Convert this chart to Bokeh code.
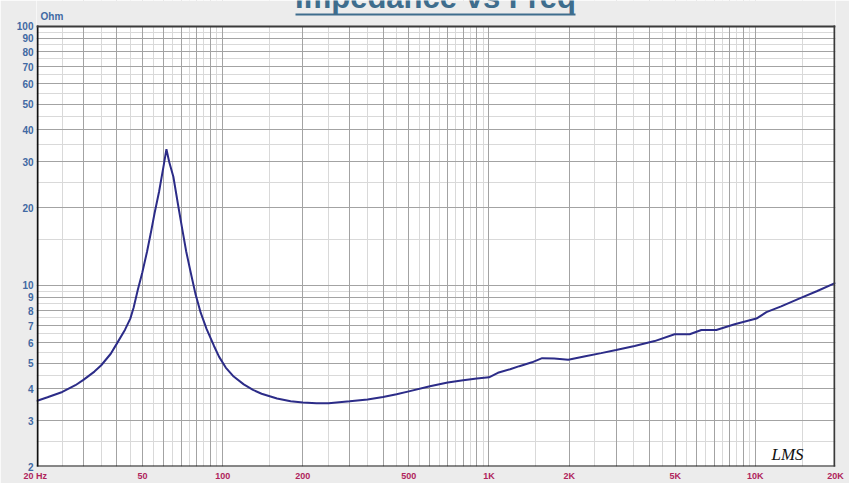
from bokeh.plotting import figure
from bokeh.models import Range1d, FixedTicker, Grid, Label, BoxAnnotation
from bokeh.embed import file_html
from bokeh.resources import INLINE

# ---- data ----
freq = [20, 22, 25, 28, 30, 33, 35, 38, 40, 43, 45, 46.3, 48, 49.9, 52, 53.7,
        55.5, 57.7, 60.2, 61.5, 63, 65.3, 68, 70.6, 73, 75.9, 79, 82.7, 87, 92.8,
        97, 102.7, 110, 120, 130, 140, 160, 180, 200, 225, 250, 300, 350, 400,
        450, 500, 600, 700, 800, 900, 1000, 1080, 1200, 1300, 1450, 1583, 1757,
        1984, 2300, 2637, 3000, 3521, 4187, 4977, 5669, 6271, 7137, 8363, 10093,
        11006, 12500, 14900, 17000, 20000]
impedance = [3.58, 3.70, 3.88, 4.12, 4.32, 4.65, 4.92, 5.45, 5.95, 6.75, 7.45, 8.2,
             9.6, 11.2, 13.5, 15.9, 19.0, 23.0, 29.5, 33.6, 30.0, 26.3, 20.5, 16.4,
             13.5, 11.2, 9.3, 7.85, 6.8, 5.84, 5.3, 4.82, 4.45, 4.15, 3.95, 3.82,
             3.66, 3.57, 3.53, 3.51, 3.51, 3.57, 3.63, 3.71, 3.80, 3.90, 4.08, 4.22,
             4.31, 4.37, 4.42, 4.60, 4.75, 4.88, 5.05, 5.24, 5.22, 5.17, 5.33, 5.48,
             5.63, 5.84, 6.10, 6.48, 6.48, 6.73, 6.73, 7.08, 7.45, 7.89, 8.3, 8.97,
             9.5, 10.24]

x_label_ticks = [20, 50, 100, 200, 500, 1000, 2000, 5000, 10000, 20000]
x_label_texts = ["20  Hz", "50", "100", "200", "500", "1K", "2K", "5K", "10K", "20K"]
y_label_ticks = [2, 3, 4, 5, 6, 7, 8, 9, 10, 20, 30, 40, 50, 60, 70, 80, 90, 100]

x_major_grid = [k * 10 ** n for n in (1, 2, 3) for k in range(2, 10)] + [100, 1000, 10000, 20000]
x_minor_grid = [(k + 0.5) * 10 ** n for n in (1, 2, 3) for k in range(2, 10)] + [150, 1500, 15000]
y_major_grid = [2, 3, 4, 5, 6, 7, 8, 9, 10, 20, 30, 40, 50, 60, 70, 80, 90, 100]
y_minor_grid = [2.5, 3.5, 4.5, 5.5, 6.5, 7.5, 8.5, 9.5, 15, 25, 35, 45, 55, 65, 75, 85, 95]

Y_TOP = 100  # top of the chart area (Ohm)

W, H = 849, 483
# frame reaches the top of the canvas; the strip above 100 Ohm is painted as border
p = figure(width=W, height=H, x_axis_type="log", y_axis_type="log",
           x_range=Range1d(20, 20000), y_range=Range1d(2, 126),
           output_backend="svg", toolbar_location=None,
           min_border_left=36, min_border_right=14, min_border_top=0, min_border_bottom=16)
BG = "#ececec"
p.border_fill_color = BG
p.background_fill_color = "white"
p.outline_line_color = None
p.xgrid.visible = False
p.ygrid.visible = False

for ticks, dim, col in [(x_minor_grid, 0, "#d9d9d9"), (y_minor_grid, 1, "#d9d9d9"),
                        (x_major_grid, 0, "#a3a3a3"), (y_major_grid, 1, "#a3a3a3")]:
    p.add_layout(Grid(dimension=dim, ticker=FixedTicker(ticks=ticks),
                      grid_line_color=col, grid_line_width=1))

xa = p.xaxis[0]
xa.ticker = FixedTicker(ticks=x_label_ticks)
xa.major_label_overrides = dict(zip(x_label_ticks, x_label_texts))
xa.axis_line_color = None
xa.major_tick_line_color = None
xa.minor_tick_line_color = None
xa.major_tick_out = 0
xa.major_label_standoff = 4
xa.major_label_text_font = "Liberation Sans"
xa.major_label_text_font_style = "bold"
xa.major_label_text_font_size = "9px"
xa.major_label_text_color = "#b0245c"

ya = p.yaxis[0]
ya.ticker = FixedTicker(ticks=y_label_ticks)
ya.major_label_overrides = {t: str(t) for t in y_label_ticks}
ya.axis_line_color = None
ya.major_tick_line_color = None
ya.minor_tick_line_color = None
ya.major_tick_out = 0
ya.major_label_standoff = 3
ya.major_label_text_font = "Liberation Sans"
ya.major_label_text_font_style = "bold"
ya.major_label_text_font_size = "10px"
ya.major_label_text_color = "#4169a3"

p.line(freq, impedance, line_color="#2c2c88", line_width=2)

# strip above the chart area, painted like the border
p.add_layout(BoxAnnotation(bottom=Y_TOP, fill_color=BG, fill_alpha=1, line_color=None))

# frame of the chart area
edge = dict(fill_alpha=1, line_color=None, left_units="canvas", right_units="canvas",
            top_units="canvas", bottom_units="canvas")
p.add_layout(BoxAnnotation(left=36, right=38, top=25, bottom=467, fill_color="#111111", **edge))
p.add_layout(BoxAnnotation(left=36, right=835, top=465, bottom=467, fill_color="#111111", **edge))
p.add_layout(BoxAnnotation(left=36, right=835, top=25, bottom=27, fill_color="#3a3a3a", **edge))
p.add_layout(BoxAnnotation(left=833, right=835, top=25, bottom=467, fill_color="#3a3a3a", **edge))

# Title (cut at the top as in the reference) and its underline
p.add_layout(Label(x=435, y=-3, x_units="canvas", y_units="canvas",
                   text="Impedance vs Freq", text_font="Liberation Sans",
                   text_font_style="bold", text_font_size="31px",
                   text_color="#3e6d8d", text_align="center",
                   text_baseline="alphabetic"))
p.add_layout(BoxAnnotation(left=295, right=575, top=13, bottom=15,
                           fill_color="#3e6d8d", **{k: v for k, v in edge.items() if k != "fill_color"}))

p.add_layout(Label(x=40, y=16, x_units="canvas", y_units="canvas", text="Ohm",
                   text_font="Liberation Sans", text_font_style="bold",
                   text_font_size="10px", text_color="#4169a3",
                   text_baseline="alphabetic"))

p.add_layout(Label(x=13205, y=2.224, text="LMS", text_font="Liberation Serif",
                   text_font_style="italic", text_font_size="17px",
                   text_color="#111111", text_align="center", text_baseline="middle"))

open("out.html", "w").write(file_html(p, INLINE))
